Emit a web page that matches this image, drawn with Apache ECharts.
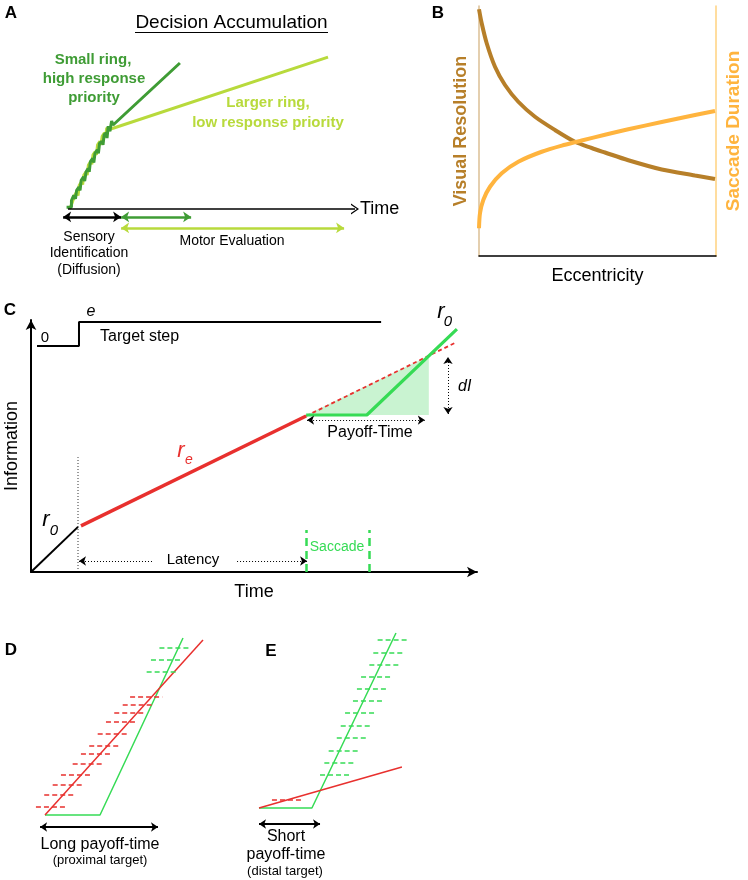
<!DOCTYPE html>
<html><head><meta charset="utf-8">
<script src="https://cdn.jsdelivr.net/npm/echarts@6/dist/echarts.min.js"></script>
<style>html,body{margin:0;padding:0;background:#fff}#c{width:748px;height:880px}</style>
</head><body><div id="c"></div>
<script>
const FONT = 'Liberation Sans, Arial, Helvetica, sans-serif';

// ---------- Panel A: decision accumulation (time vs accumulated evidence) ----------
const aSmallRing = [[-0.5,1],[1.2,1],[1.2,5],[2,8],[2.6,6],[3,11],[3.8,13],[4.2,11],[4.6,17],[5.4,19],[5.8,16.5],[6.3,22],[7,24],[7.4,22],[7.8,28],[8.6,30],[9,27.5],[9.4,33],[10.2,35],[10.6,33],[11,39],[11.8,40],[12.2,38],[12.6,44],[13.3,45],[13.6,42],[14,49],[14.6,46],[15.2,52],[15.7,49.7],[39,86.4]];
const aLargeRing = [[0.5,0],[1.3,3],[1.8,2],[2.3,8],[3,10],[3.5,8],[3.9,14],[4.7,16],[5.1,14.5],[5.5,20],[6.3,22],[6.7,20],[7.1,26],[7.9,28],[8.3,26.5],[8.7,32],[9.5,34],[9.9,32],[10.3,38],[11.1,40],[11.5,38],[11.9,43],[12.7,45],[13.1,43],[13.5,48],[14.5,47],[15.7,47.8],[90.6,89.9]];
const aTimeAxis = [0, 100];
const aSensory = [-1.7, 18.5];
const aMotorSmall = [18.5, 42.9];
const aMotorLarge = [18.5, 96.2];
const aRowLevels = [-4.7, -11.2];

// ---------- Panel B: eccentricity tradeoff ----------
const bResX = [0, 0.114, 0.325, 0.675, 1.097, 1.658, 2.363, 3.207, 4.051, 4.755, 5.316, 6.3, 7.709, 9.114, 9.958];
const bResY = [98.7, 93.1, 85.1, 75.7, 68.4, 61.7, 55.7, 50.4, 45.7, 43.2, 41.4, 38.3, 34.6, 32.2, 30.8];
const bDurX = [0, 0.042, 0.181, 0.464, 0.958, 1.658, 2.646, 3.629, 4.333, 5.316, 6.3, 7.709, 9.114, 9.958];
const bDurY = [11.1, 17.1, 22.4, 27.7, 33.1, 37.7, 41.7, 44.5, 46.2, 48.5, 50.7, 53.6, 56.4, 58];

// ---------- Panel C: information accumulation ----------
const cTargetStep = [[1.35,89.7],[10.76,89.7],[10.76,99.2],[78.5,99.2]];
const cR0 = [[0,0],[10.54,17.9]];
const cOnset = [[10.54,0],[10.54,45.6]];
const cRe = [[11.2,18.3],[61.7,61.9]];
const cReExtrap = [[61.7,61.9],[95.5,91.3]];
const cSaccadeInfo = [[61.7,62.3],[75.3,62.3],[95.5,96.4]];
const cPayoffTriangle = [[61.7,62.3],[89.2,85.8],[89.2,62.3]];
const cLatencyLeft = [10.76, 27.4];
const cLatencyRight = [46.2, 61.9];
const cLatencyLevel = 4.37;
const cPayoffSpan = [61.9, 88.3];
const cPayoffLevel = 60.3;
const cDIx = 93.5;
const cDISpan = [62.7, 85.3];
const cSaccadeX = [61.7, 75.8];
const cSaccadeSpan = [0, 16.7];

// ---------- Panel D: long payoff-time ----------
const dGreen = [[8.33,7.5],[38.9,7.5],[85,96]];
const dRed = [[8.33,7.5],[96.1,95]];
const dRedDashY = [11.7, 17.5, 22.5, 27.5, 32.9, 37.9, 42.2, 48, 53.9, 58.7, 62.7, 66.7];
const dRedDashX0 = [3.3, 7.9, 12.6, 17.2, 23.7, 28.3, 32.9, 37.6, 42.2, 46.8, 51.5, 55.6];
const dRedDashX1 = [20.9, 25.6, 30, 34.6, 41.3, 45.9, 50.6, 55.2, 59.8, 64.4, 68.9, 73.5];
const dGreenDashY = [79.2, 85, 91.3];
const dGreenDashX0 = [64.8, 67.2, 71.9];
const dGreenDashX1 = [82.4, 84.8, 89.3];
const dSpan = [5.6, 71.1];
const dSpanLevel = 1.5;

// ---------- Panel E: short payoff-time ----------
const eGreen = [[5,11],[34.4,11],[81.1,98.5]];
const eRed = [[5,11],[84.4,31.5]];
const eGreenDashY = [95, 88.7, 82.7, 76.7, 70.4, 64.4, 58.4, 52, 45.9, 39.7, 33.7, 27.4];
const eGreenDashX0 = [70.9, 68.5, 66.3, 61.7, 59.4, 57.2, 52.8, 50.4, 48.2, 43.7, 41.3, 38.9];
const eGreenDashX1 = [88.3, 86.1, 83.7, 79.3, 76.8, 74.6, 70.4, 68, 65.7, 61.1, 58.9, 56.5];
const eRedDashY = [15];
const eRedDashX0 = [12.2];
const eRedDashX1 = [28.9];
const eSpan = [5, 38.9];
const eSpanLevel = 3;

// ---------- colours ----------
const DARKG = '#3f9c35', LIGHTG = '#b8da3c', BROWN = '#b77f29', ORANGE = '#ffb43e';
const RED = '#e8302e', GREEN = '#36db55';

function seg(x1, y1, x2, y2, s1, s2) {
  return [{coord:[x1,y1], symbol: s1 || 'none'}, {coord:[x2,y2], symbol: s2 || 'none'}];
}
function dashes(xs0, xs1, ys) { return ys.map((y,i) => seg(xs0[i], y, xs1[i], y)); }
function ml(data, color, width, type, size) {
  return { silent:true, animation:false, symbolSize: size || 8, label:{show:false},
           lineStyle:{color, width, type: type || 'solid'}, emphasis:{disabled:true}, data };
}
function line(gi, data, color, width, extra) {
  return Object.assign({ type:'line', xAxisIndex:gi, yAxisIndex:gi, data, symbol:'none', showSymbol:false,
    silent:true, animation:false, lineStyle:{color, width}, z:3 }, extra || {});
}
function T(text, x, y, o) {
  o = o || {};
  return { type:'text', x, y, silent:true, z:100, style:{ text, fill:o.fill || '#000',
    font: (o.italic ? 'italic ' : '') + (o.bold ? 'bold ' : '') + (o.size || 16) + 'px ' + FONT,
    align:o.align || 'center', verticalAlign:'middle' } };
}
const hidden = { show:false };
function hx(min, max, gi) { return { type:'value', gridIndex:gi, min, max, show:false }; }

const option = {
  backgroundColor:'#fff',
  animation:false,
  grid:[
    {left:59.4, top:40, width:295.6, height:194.35, outerBoundsMode:'none', containLabel:false},
    {left:479, top:6, width:237, height:250, outerBoundsMode:'none', containLabel:false},
    {left:31, top:320, width:446, height:252, outerBoundsMode:'none', containLabel:false},
    {left:30, top:630, width:180, height:200, outerBoundsMode:'none', containLabel:false},
    {left:250, top:630, width:180, height:200, outerBoundsMode:'none', containLabel:false}
  ],
  xAxis:[
    hx(-3, 100, 0),
    { type:'value', gridIndex:1, min:0, max:10, axisLine:{show:true, onZero:false, lineStyle:{color:'#000', width:1.5}},
      axisTick:hidden, axisLabel:hidden, splitLine:hidden,
      name:'Eccentricity', nameLocation:'middle', nameGap:11, nameTextStyle:{fontFamily:FONT, fontSize:18, color:'#000'} },
    { type:'value', gridIndex:2, min:0, max:100, axisLine:{show:true, onZero:false, symbol:['none','arrow'], symbolSize:[8,10], lineStyle:{color:'#000', width:2}},
      axisTick:hidden, axisLabel:hidden, splitLine:hidden,
      name:'Time', nameLocation:'middle', nameGap:11, nameTextStyle:{fontFamily:FONT, fontSize:18, color:'#000'} },
    hx(0, 100, 3),
    hx(0, 100, 4)
  ],
  yAxis:[
    hx(-15, 100, 0),
    { type:'value', gridIndex:1, min:0, max:100, axisLine:{show:true, onZero:false, lineStyle:{color:'#dbbf95', width:1.5}},
      axisTick:hidden, axisLabel:hidden, splitLine:hidden,
      name:'Visual Resolution', nameLocation:'middle', nameRotate:90, nameGap:9,
      nameTextStyle:{fontFamily:FONT, fontSize:18, fontWeight:'bold', color:BROWN} },
    { type:'value', gridIndex:2, min:0, max:100, axisLine:{show:true, onZero:false, symbol:['none','arrow'], symbolSize:[8,10], lineStyle:{color:'#000', width:2}},
      axisTick:hidden, axisLabel:hidden, splitLine:hidden,
      name:'Information', nameLocation:'middle', nameRotate:90, nameGap:10,
      nameTextStyle:{fontFamily:FONT, fontSize:18, color:'#000'} },
    hx(0, 100, 3),
    hx(0, 100, 4),
    { type:'value', gridIndex:1, min:0, max:100, position:'right', axisLine:{show:true, onZero:false, lineStyle:{color:'#ffd27f', width:1.5}},
      axisTick:hidden, axisLabel:hidden, splitLine:hidden,
      name:'Saccade Duration', nameLocation:'middle', nameRotate:90, nameGap:8,
      nameTextStyle:{fontFamily:FONT, fontSize:19, fontWeight:'bold', color:ORANGE} }
  ],
  series:[
    // ----- A -----
    line(0, aLargeRing, LIGHTG, 3),
    line(0, aSmallRing, DARKG, 3, {
      markLine: ml([
        seg(aTimeAxis[0], 0, aTimeAxis[1], 0, 'none', 'path://M0,10L5,0L10,10L8.6,10L5,2.6L1.4,10Z')
      ], '#000', 1.5, 'solid', [11, 8])
    }),
    line(0, [], '#000', 2.5, { markLine: ml([seg(aSensory[0], aRowLevels[0], aSensory[1], aRowLevels[0], 'arrow', 'arrow')], '#000', 2.5, 'solid', 8) }),
    line(0, [], DARKG, 2.5, { markLine: ml([seg(aMotorSmall[0], aRowLevels[0], aMotorSmall[1], aRowLevels[0], 'arrow', 'arrow')], DARKG, 2.5, 'solid', 8) }),
    line(0, [], LIGHTG, 2.5, { markLine: ml([seg(aMotorLarge[0], aRowLevels[1], aMotorLarge[1], aRowLevels[1], 'arrow', 'arrow')], LIGHTG, 2.5, 'solid', 8) }),
    // ----- B -----
    line(1, bResX.map((x,i) => [x, bResY[i]]), BROWN, 4, {smooth:0.3}),
    line(1, bDurX.map((x,i) => [x, bDurY[i]]), ORANGE, 4, {smooth:0.3, z:4}),
    // ----- C -----
    { type:'custom', xAxisIndex:2, yAxisIndex:2, data:[0], silent:true, animation:false, z:1,
      renderItem:(params, api) => ({ type:'polygon', shape:{points: cPayoffTriangle.map(p => api.coord(p))},
        style:{fill:'rgba(120,224,140,0.4)'} }) },
    line(2, cTargetStep, '#000', 2),
    line(2, cR0, '#000', 2),
    line(2, cOnset, '#000', 0.8, {lineStyle:{color:'#000', width:0.8, type:[1,2]}}),
    line(2, cRe, RED, 3.5),
    line(2, cReExtrap, RED, 1.8, {lineStyle:{color:RED, width:1.8, type:[4,3]}}),
    line(2, cSaccadeInfo, GREEN, 3.2, {z:4}),
    line(2, [], '#000', 1, { markLine: ml([
      seg(cLatencyLeft[0], cLatencyLevel, cLatencyLeft[1], cLatencyLevel, 'arrow', 'none'),
      seg(cLatencyRight[0], cLatencyLevel, cLatencyRight[1], cLatencyLevel, 'none', 'arrow'),
      seg(cPayoffSpan[0], cPayoffLevel, cPayoffSpan[1], cPayoffLevel, 'arrow', 'arrow'),
      seg(cDIx, cDISpan[0], cDIx, cDISpan[1], 'arrow', 'arrow')
    ], '#000', 1, [1,2], 7) }),
    line(2, [], GREEN, 2.5, { markLine: ml(cSaccadeX.map(x => seg(x, cSaccadeSpan[0], x, cSaccadeSpan[1])), GREEN, 2.5, [8,5]) }),
    // ----- D -----
    line(3, dGreen, GREEN, 1.5),
    line(3, dRed, RED, 1.5),
    line(3, [], RED, 1.5, { markLine: ml(dashes(dRedDashX0, dRedDashX1, dRedDashY), RED, 1.5, [5,3]) }),
    line(3, [], GREEN, 1.5, { markLine: ml(dashes(dGreenDashX0, dGreenDashX1, dGreenDashY), GREEN, 1.5, [5,3]) }),
    line(3, [], '#000', 2, { markLine: ml([seg(dSpan[0], dSpanLevel, dSpan[1], dSpanLevel, 'arrow', 'arrow')], '#000', 2, 'solid', 7) }),
    // ----- E -----
    line(4, eGreen, GREEN, 1.5),
    line(4, eRed, RED, 1.5),
    line(4, [], GREEN, 1.5, { markLine: ml(dashes(eGreenDashX0, eGreenDashX1, eGreenDashY), GREEN, 1.5, [5,3]) }),
    line(4, [], RED, 1.5, { markLine: ml(dashes(eRedDashX0, eRedDashX1, eRedDashY), RED, 1.5, [5,3]) }),
    line(4, [], '#000', 2, { markLine: ml([seg(eSpan[0], eSpanLevel, eSpan[1], eSpanLevel, 'arrow', 'arrow')], '#000', 2, 'solid', 7) })
  ],
  graphic:[
    // A
    T('A', 11, 13, {bold:true, size:17}),
    T('Decision Accumulation', 231.5, 23, {size:19}),
    { type:'line', silent:true, shape:{x1:135, y1:32.5, x2:328, y2:32.5}, style:{stroke:'#000', lineWidth:1} },
    T('Small ring,', 93, 60, {bold:true, size:15, fill:DARKG}),
    T('high response', 94, 79, {bold:true, size:15, fill:DARKG}),
    T('priority', 94, 98, {bold:true, size:15, fill:DARKG}),
    T('Larger ring,', 268, 103, {bold:true, size:15, fill:LIGHTG}),
    T('low response priority', 268, 123, {bold:true, size:15, fill:LIGHTG}),
    T('Time', 360, 209, {size:18, align:'left'}),
    T('Sensory', 89, 237, {size:14}),
    T('Identification', 89, 253, {size:14}),
    T('(Diffusion)', 89, 270, {size:14}),
    T('Motor Evaluation', 232, 241, {size:14}),
    // B
    T('B', 438, 13, {bold:true, size:17}),
    // C
    T('C', 10, 310, {bold:true, size:17}),
    T('0', 45, 338, {size:15}),
    T('e', 91, 312, {size:16, italic:true}),
    T('Target step', 100, 337, {size:16, align:'left'}),
    T('r', 46, 520, {size:22, italic:true}),
    T('0', 54, 531, {size:15, italic:true}),
    T('r', 181, 451, {size:22, italic:true, fill:RED}),
    T('e', 189, 460, {size:14, italic:true, fill:RED}),
    T('r', 441, 312, {size:22, italic:true}),
    T('0', 448, 322, {size:15, italic:true}),
    T('dI', 458, 387, {size:16, italic:true, align:'left'}),
    T('Payoff-Time', 370, 433, {size:16}),
    T('Latency', 193, 560, {size:15}),
    T('Saccade', 337, 547, {size:14, fill:GREEN}),
    // D
    T('D', 11, 650, {bold:true, size:17}),
    T('Long payoff-time', 100, 845, {size:16}),
    T('(proximal target)', 100, 860, {size:13}),
    // E
    T('E', 271, 651, {bold:true, size:17}),
    T('Short', 286, 837, {size:16}),
    T('payoff-time', 286, 855, {size:16}),
    T('(distal target)', 285, 871, {size:13})
  ]
};
const chart = echarts.init(document.getElementById('c'), null, {renderer:'canvas'});
chart.setOption(option);
</script>
</body></html>
